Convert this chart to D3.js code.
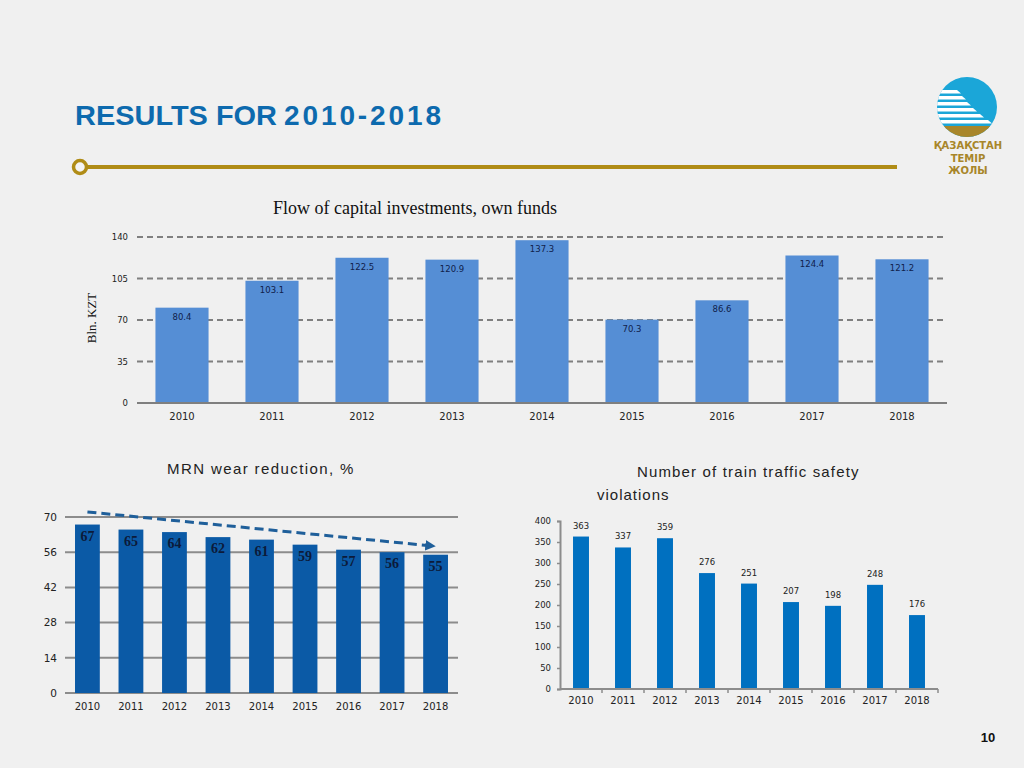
<!DOCTYPE html>
<html><head><meta charset="utf-8">
<script src="https://cdn.jsdelivr.net/npm/d3@7"></script>
<style>
html,body{margin:0;padding:0;background:#f0f0f0;}
svg{display:block;}
</style></head>
<body>
<svg id="c" width="1024" height="768"></svg>
<script>
// ---------- DATA ----------
const years = ["2010","2011","2012","2013","2014","2015","2016","2017","2018"];
const investLabels = ["80.4","103.1","122.5","120.9","137.3","70.3","86.6","124.4","121.2"];
const investValues = [80.4,103.1,122.5,120.9,137.3,70.3,86.6,124.4,121.2];
const investTicks = [0,35,70,105,140];
const wearValues = [67,65,64,62,61,59,57,56,55];
const wearTicks = [0,14,28,42,56,70];
const wearTrend = [72.0,58.5]; // dashed arrow, 2010 -> 2018
const violValues = [363,337,359,276,251,207,198,248,176];
const violTicks = [0,50,100,150,200,250,300,350,400];

const svg = d3.select("#c");

// ---------- HEADER ----------
svg.append("text").attr("x",75).attr("y",125)
  .attr("font-family","Liberation Sans, Arial, sans-serif").attr("font-weight","bold")
  .attr("font-size",28).attr("fill","#0d6aae")
  .attr("textLength",202).attr("lengthAdjust","spacingAndGlyphs")
  .text("RESULTS FOR");
svg.append("text").attr("x",284).attr("y",125)
  .attr("font-family","Liberation Sans, Arial, sans-serif").attr("font-weight","bold")
  .attr("font-size",28).attr("fill","#0d6aae")
  .attr("textLength",157).attr("lengthAdjust","spacing")
  .text("2010-2018");
svg.append("line").attr("x1",86).attr("x2",897).attr("y1",167).attr("y2",167)
  .attr("stroke","#b08c16").attr("stroke-width",4);
svg.append("circle").attr("cx",80).attr("cy",167).attr("r",6.5)
  .attr("fill","#f4f4f4").attr("stroke","#b08c16").attr("stroke-width",3.5);

// logo
const lg = svg.append("g");
const defs = svg.append("defs");
defs.append("clipPath").attr("id","lc").append("circle").attr("cx",967).attr("cy",107).attr("r",30);
const lc = lg.append("g").attr("clip-path","url(#lc)");
lc.append("rect").attr("x",935).attr("y",75).attr("width",65).attr("height",65).attr("fill","#1ba6d8");
lc.append("rect").attr("x",935).attr("y",126).attr("width",65).attr("height",15).attr("fill","#a8862a");
[[90,957],[96,962],[102,967],[108,973],[114,980],[120,988]].forEach(([y,x2])=>{
  lc.append("path").attr("d",`M935,${y} L${x2},${y} L${x2+4},${y+3.5} L935,${y+3.5}Z`).attr("fill","#ffffff");
});
["ҚАЗАҚСТАН","ТЕМІР","ЖОЛЫ"].forEach((t,i)=>{
  svg.append("text").attr("x",968).attr("y",149+i*12.5).attr("text-anchor","middle")
    .attr("font-family","DejaVu Sans, sans-serif").attr("font-weight","bold").attr("font-size",10)
    .attr("fill","#a8862a").text(t);
});

svg.append("text").attr("x",988).attr("y",742).attr("text-anchor","middle")
  .attr("font-family","Liberation Sans, Arial, sans-serif").attr("font-weight","bold").attr("font-size",13)
  .attr("fill","#111").text("10");

// ---------- TOP CHART ----------
{
  const x = d3.scaleBand().domain(years).range([137,947]).paddingInner(0.41).paddingOuter(0.205);
  const y = d3.scaleLinear().domain([0,140]).range([403,237]);
  const g = svg.append("g");
  g.append("text").attr("x",415).attr("y",214).attr("text-anchor","middle")
    .attr("font-family","Liberation Serif, Times New Roman, serif").attr("font-size",18).attr("fill","#111")
    .text("Flow of capital investments, own funds");
  g.selectAll(".gl").data(investTicks.filter(d=>d>0)).join("line")
    .attr("x1",137).attr("x2",947).attr("y1",d=>y(d)).attr("y2",d=>y(d))
    .attr("stroke","#7f7f7f").attr("stroke-width",2).attr("stroke-dasharray","6,4");
  const ya = d3.axisLeft(y).tickValues(investTicks).tickSize(0).tickPadding(9);
  const yg = g.append("g").attr("transform","translate(137,0)").call(ya);
  yg.select(".domain").remove();
  yg.selectAll("text").attr("font-family","DejaVu Sans, sans-serif").attr("font-size",8.5).attr("fill","#222");
  g.selectAll(".b").data(investValues).join("rect")
    .attr("x",(d,i)=>x(years[i])).attr("width",x.bandwidth())
    .attr("y",d=>y(d)).attr("height",d=>y(0)-y(d)).attr("fill","#558ed5");
  g.selectAll(".bl").data(investValues).join("text")
    .attr("x",(d,i)=>x(years[i])+x.bandwidth()/2).attr("y",d=>y(d)+12)
    .attr("text-anchor","middle").attr("font-family","DejaVu Sans, sans-serif").attr("font-size",8.5)
    .attr("fill","#10204a").text((d,i)=>investLabels[i]);
  g.append("line").attr("x1",137).attr("x2",947).attr("y1",y(0)).attr("y2",y(0))
    .attr("stroke","#7f7f7f").attr("stroke-width",2);
  const xa = d3.axisBottom(x).tickSize(0).tickPadding(10);
  const xg = g.append("g").attr("transform",`translate(0,${y(0)})`).call(xa);
  xg.select(".domain").remove();
  xg.selectAll("text").attr("font-family","DejaVu Sans, sans-serif").attr("font-size",10).attr("fill","#222");
  g.append("text").attr("transform","translate(96,318) rotate(-90)").attr("text-anchor","middle")
    .attr("font-family","Liberation Serif, Times New Roman, serif").attr("font-size",13).attr("fill","#111")
    .text("Bln. KZT");
}

// ---------- BOTTOM LEFT ----------
{
  const x = d3.scaleBand().domain(years).range([65,458]).paddingInner(0.43).paddingOuter(0.23);
  const y = d3.scaleLinear().domain([0,70]).range([693,517]);
  const g = svg.append("g");
  g.append("text").attr("x",167).attr("y",474)
    .attr("font-family","Liberation Sans, Arial, sans-serif").attr("font-size",15).attr("fill","#222")
    .attr("letter-spacing",1.4).text("MRN wear reduction, %");
  g.selectAll(".gl").data(wearTicks).join("line")
    .attr("x1",65).attr("x2",458).attr("y1",d=>y(d)).attr("y2",d=>y(d))
    .attr("stroke","#8c8c8c").attr("stroke-width",2);
  const yg = g.append("g").attr("transform","translate(65,0)")
    .call(d3.axisLeft(y).tickValues(wearTicks).tickSize(0).tickPadding(8));
  yg.select(".domain").remove();
  yg.selectAll("text").attr("font-family","DejaVu Sans, sans-serif").attr("font-size",10.5).attr("fill","#222");
  g.selectAll(".b").data(wearValues).join("rect")
    .attr("x",(d,i)=>x(years[i])).attr("width",x.bandwidth())
    .attr("y",d=>y(d)).attr("height",d=>y(0)-y(d)).attr("fill","#0b5aa6");
  g.selectAll(".bl").data(wearValues).join("text")
    .attr("x",(d,i)=>x(years[i])+x.bandwidth()/2).attr("y",d=>y(d)+16)
    .attr("text-anchor","middle").attr("font-family","Liberation Serif, Times New Roman, serif")
    .attr("font-weight","bold").attr("font-size",14).attr("fill","#0c1a3a").text(d=>d);
  const xg = g.append("g").attr("transform",`translate(0,${y(0)})`)
    .call(d3.axisBottom(x).tickSize(0).tickPadding(10));
  xg.select(".domain").remove();
  xg.selectAll("text").attr("font-family","DejaVu Sans, sans-serif").attr("font-size",10).attr("fill","#222");
  const cx = d => x(d)+x.bandwidth()/2;
  defs.append("marker").attr("id","arr").attr("viewBox","0 0 10 10").attr("refX",6).attr("refY",5)
    .attr("markerWidth",3.5).attr("markerHeight",3.5).attr("orient","auto")
    .append("path").attr("d","M0,0 L10,5 L0,10 Z").attr("fill","#1f5f9a");
  g.append("line").attr("x1",cx(years[0])).attr("y1",y(wearTrend[0]))
    .attr("x2",cx(years[8])-4).attr("y2",y(wearTrend[1]))
    .attr("stroke","#1f5f9a").attr("stroke-width",3).attr("stroke-dasharray","9,5")
    .attr("marker-end","url(#arr)");
}

// ---------- BOTTOM RIGHT ----------
{
  const x = d3.scaleBand().domain(years).range([560,938]).paddingInner(0.62).paddingOuter(0.31);
  const y = d3.scaleLinear().domain([0,400]).range([689,521]);
  const g = svg.append("g");
  g.append("text").attr("x",637).attr("y",477)
    .attr("font-family","Liberation Sans, Arial, sans-serif").attr("font-size",15).attr("fill","#222")
    .attr("letter-spacing",1.15).text("Number of train traffic safety");
  g.append("text").attr("x",597).attr("y",500)
    .attr("font-family","Liberation Sans, Arial, sans-serif").attr("font-size",15).attr("fill","#222")
    .attr("letter-spacing",1.0).text("violations");
  const yg = g.append("g").attr("transform","translate(560,0)")
    .call(d3.axisLeft(y).tickValues(violTicks).tickSize(3).tickPadding(6));
  yg.select(".domain").attr("stroke","#8c8c8c").attr("stroke-width",2);
  yg.selectAll(".tick line").attr("stroke","#8c8c8c").attr("stroke-width",1.5);
  yg.selectAll("text").attr("font-family","DejaVu Sans, sans-serif").attr("font-size",8.5).attr("fill","#222");
  g.selectAll(".b").data(violValues).join("rect")
    .attr("x",(d,i)=>x(years[i])).attr("width",x.bandwidth())
    .attr("y",d=>y(d)).attr("height",d=>y(0)-y(d)).attr("fill","#0070c0");
  g.selectAll(".bl").data(violValues).join("text")
    .attr("x",(d,i)=>x(years[i])+x.bandwidth()/2).attr("y",d=>y(d)-8)
    .attr("text-anchor","middle").attr("font-family","DejaVu Sans, sans-serif")
    .attr("font-size",8.5).attr("fill","#222").text(d=>d);
  g.append("line").attr("x1",560).attr("x2",938).attr("y1",y(0)).attr("y2",y(0))
    .attr("stroke","#8c8c8c").attr("stroke-width",2);
  g.selectAll(".bt").data(years).join("line")
    .attr("x1",(d)=>x(d)-x.step()*x.paddingInner()/2+x.step()).attr("x2",(d)=>x(d)-x.step()*x.paddingInner()/2+x.step())
    .attr("y1",y(0)).attr("y2",y(0)+4).attr("stroke","#8c8c8c").attr("stroke-width",1.5);
  const xg = g.append("g").attr("transform",`translate(0,${y(0)})`)
    .call(d3.axisBottom(x).tickSize(0).tickPadding(8));
  xg.select(".domain").remove();
  xg.selectAll("text").attr("font-family","DejaVu Sans, sans-serif").attr("font-size",10).attr("fill","#222");
}
</script>
</body></html>
